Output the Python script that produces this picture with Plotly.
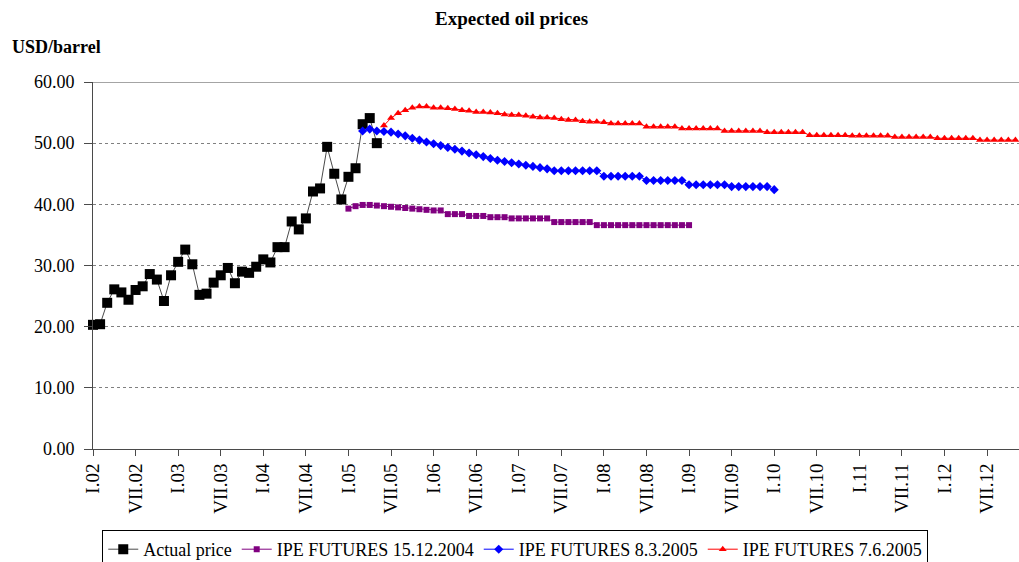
import plotly.graph_objects as go

# ---- data ----
tick_labels = ["I.02", "VII.02", "I.03", "VII.03", "I.04", "VII.04", "I.05", "VII.05",
               "I.06", "VII.06", "I.07", "VII.07", "I.08", "VII.08", "I.09", "VII.09",
               "I.10", "VII.10", "I.11", "VII.11", "I.12", "VII.12"]

# month index 0 = I.02
actual_start = 0
actual_price = [20.3, 20.4, 23.9, 26.1, 25.6, 24.4, 26.0, 26.6, 28.6, 27.7, 24.2, 28.4,
                30.6, 32.6, 30.2, 25.2, 25.4, 27.2, 28.4, 29.6, 27.1, 29.0, 28.8, 29.8,
                31.0, 30.5, 33.0, 33.0, 37.2, 35.9, 37.7, 42.1, 42.6, 49.4, 45.0, 40.8,
                44.5, 45.9, 53.1, 54.1, 50.0]

ipe_dec04_start = 36
ipe_dec04 = [39.3, 39.7, 39.9, 39.9, 39.8, 39.7, 39.6, 39.5, 39.4, 39.3, 39.2, 39.1,
             39.0, 39.0, 38.4, 38.4, 38.4, 38.1, 38.1, 38.1, 37.9, 37.9, 37.9,
             37.7, 37.7, 37.7, 37.7, 37.7, 37.7,
             37.1, 37.1, 37.1, 37.1, 37.1, 37.1,
             36.6, 36.6, 36.6, 36.6, 36.6, 36.6, 36.6, 36.6, 36.6, 36.6, 36.6, 36.6, 36.6, 36.6]

ipe_mar05_start = 38
ipe_mar05 = [52.0, 52.3, 52.0, 51.9, 51.8, 51.5, 51.2, 50.8, 50.5, 50.2, 49.9, 49.6,
             49.3, 49.0, 48.7, 48.4, 48.1, 47.8, 47.5, 47.2, 47.0, 46.8, 46.6, 46.4,
             46.2, 46.0, 45.8,
             45.5, 45.5, 45.5, 45.5, 45.5, 45.5, 45.5,
             44.6, 44.6, 44.6, 44.6, 44.6, 44.6,
             43.9, 43.9, 43.9, 43.9, 43.9, 43.9,
             43.2, 43.2, 43.2, 43.2, 43.2, 43.2,
             42.9, 42.9, 42.9, 42.9, 42.9, 42.9,
             42.4]

ipe_jun05_start = 41
ipe_jun05 = [52.9, 54.1, 54.9, 55.4, 55.8, 56.0, 56.0, 55.8, 55.8, 55.7, 55.6, 55.4,
             55.3, 55.1, 55.1, 55.0, 54.9, 54.7, 54.6, 54.6, 54.5, 54.3, 54.2, 54.2,
             54.1, 53.9, 53.8, 53.8, 53.6, 53.5, 53.5, 53.4,
             53.2, 53.2, 53.2, 53.2, 53.2,
             52.7, 52.7, 52.7, 52.7, 52.7,
             52.4, 52.4, 52.4, 52.4, 52.4, 52.4,
             52.0, 52.0, 52.0, 52.0, 52.0, 52.0,
             51.8, 51.8, 51.8, 51.8, 51.8, 51.8,
             51.3, 51.3, 51.3, 51.3, 51.3, 51.3,
             51.2, 51.2, 51.2, 51.2, 51.2, 51.2,
             51.0, 51.0, 51.0, 51.0, 51.0, 51.0,
             50.8, 50.8, 50.8, 50.8, 50.8, 50.8,
             50.5, 50.5, 50.5, 50.5, 50.5, 50.5]

y_ticks = [0, 10, 20, 30, 40, 50, 60]

FONT = "Liberation Serif, Times New Roman, serif"


def months(start, vals):
    return list(range(start, start + len(vals)))


fig = go.Figure()
fig.add_trace(go.Scatter(
    x=months(actual_start, actual_price), y=actual_price, name="Actual price",
    mode="lines+markers", line=dict(color="#4a4a4a", width=1),
    marker=dict(symbol="square", size=10, color="black"), cliponaxis=False))
fig.add_trace(go.Scatter(
    x=months(ipe_dec04_start, ipe_dec04), y=ipe_dec04, name="IPE FUTURES 15.12.2004",
    mode="lines+markers", line=dict(color="#800080", width=1),
    marker=dict(symbol="square", size=6, color="#800080"), cliponaxis=False))
fig.add_trace(go.Scatter(
    x=months(ipe_mar05_start, ipe_mar05), y=ipe_mar05, name="IPE FUTURES 8.3.2005",
    mode="lines+markers", line=dict(color="#0000ff", width=1),
    marker=dict(symbol="diamond", size=7, color="#0000ff"), cliponaxis=False))
fig.add_trace(go.Scatter(
    x=months(ipe_jun05_start, ipe_jun05), y=ipe_jun05, name="IPE FUTURES 7.6.2005",
    mode="lines+markers", line=dict(color="#ff0000", width=1),
    marker=dict(symbol="triangle-up", size=7, color="#ff0000"), cliponaxis=False))

tick_vals = [6 * i for i in range(len(tick_labels))]

fig.update_layout(
    width=1019, height=562,
    margin=dict(l=93, r=0, t=82, b=113),
    paper_bgcolor="white", plot_bgcolor="white",
    font=dict(family=FONT, size=18, color="black"),
    showlegend=True,
    legend=dict(orientation="h", x=0.456, xanchor="center",
                yref="container", y=(562 - 530) / 562, yanchor="top",
                bordercolor="black", borderwidth=1, bgcolor="white",
                font=dict(family=FONT, size=18, color="black"),
                itemwidth=30, tracegroupgap=0),
    xaxis=dict(range=[0, 130.5], tickmode="array", tickvals=tick_vals, ticktext=tick_labels,
               tickangle=-90, ticks="outside", ticklen=6, tickcolor="#4a4a4a",
               showline=True, linecolor="#4a4a4a", linewidth=1, showgrid=False,
               zeroline=False, tickfont=dict(family=FONT, size=19, color="black")),
    yaxis=dict(range=[0, 60], tickmode="array", tickvals=y_ticks,
               ticktext=[f"{v:.2f}" for v in y_ticks],
               ticks="outside", ticklen=8, tickcolor="#4a4a4a",
               showline=True, linecolor="#4a4a4a", linewidth=1,
               showgrid=True, gridcolor="#808080", gridwidth=1, griddash="3px,3px",
               zeroline=False, ticklabelstandoff=6,
               tickfont=dict(family=FONT, size=18, color="black")),
    annotations=[
        dict(text="<b>Expected oil prices</b>", xref="paper", yref="paper",
             x=(511 - 93) / 926, y=(449 - 18) / 367, xanchor="center", yanchor="middle",
             showarrow=False, font=dict(family=FONT, size=19, color="black")),
        dict(text="<b>USD/barrel</b>", xref="paper", yref="paper",
             x=(10 - 93) / 926, y=(449 - 47) / 367, xanchor="left", yanchor="middle",
             showarrow=False, font=dict(family=FONT, size=18, color="black")),
    ],
    shapes=[dict(type="line", xref="paper", yref="y", x0=0, x1=1, y0=60, y1=60,
                 line=dict(color="#4a4a4a", width=1), layer="below")],
)

fig.write_html("out.html", config={"displayModeBar": False},
               post_script="document.body.style.margin='0';")
